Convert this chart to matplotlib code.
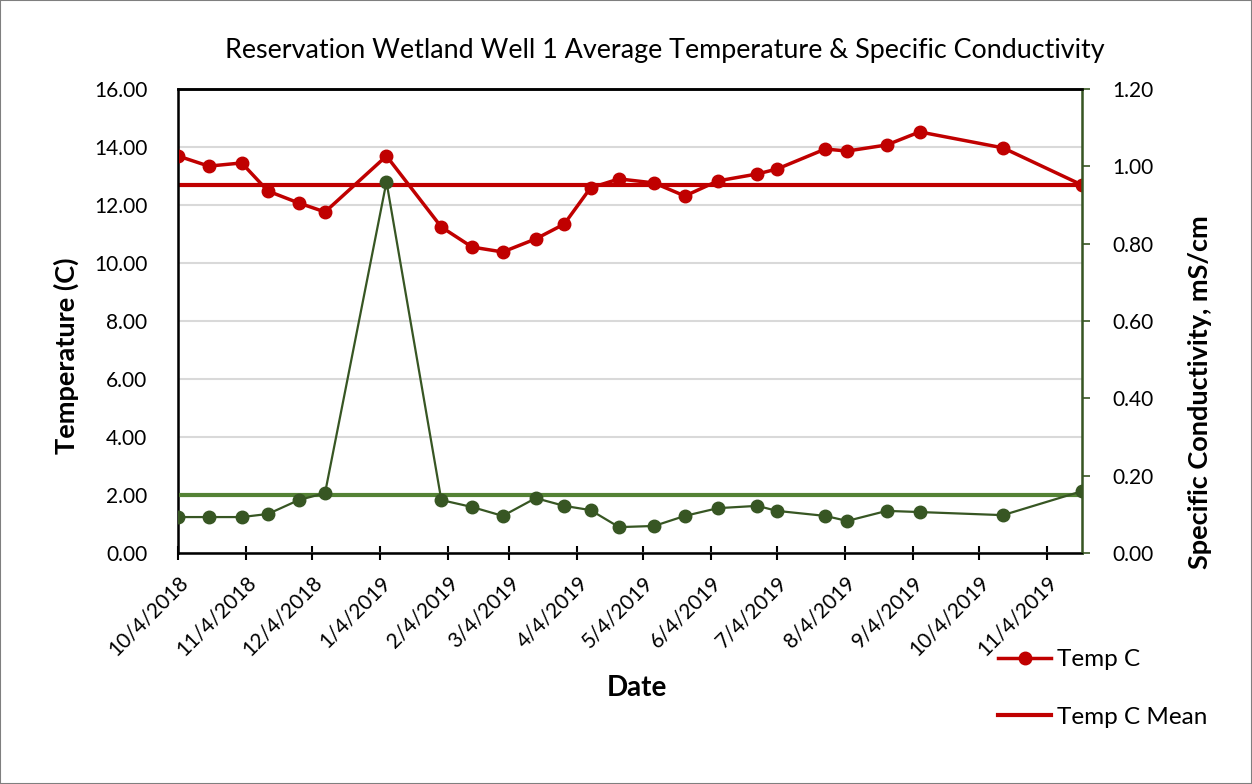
import matplotlib
matplotlib.use("Agg")
import matplotlib.pyplot as plt
import pandas as pd
from matplotlib.lines import Line2D
from matplotlib.patches import Rectangle

plt.rcParams['font.family'] = ['Lato', 'DejaVu Sans']

dates = ["2018-10-04", "2018-10-18", "2018-11-02", "2018-11-14", "2018-11-28",
         "2018-12-10", "2019-01-07", "2019-02-01", "2019-02-15", "2019-03-01",
         "2019-03-16", "2019-03-29", "2019-04-10", "2019-04-23", "2019-05-09",
         "2019-05-23", "2019-06-07", "2019-06-25", "2019-07-04", "2019-07-26",
         "2019-08-05", "2019-08-23", "2019-09-07", "2019-10-15", "2019-11-20"]
temp_c = [13.69, 13.34, 13.45, 12.48, 12.07, 11.76, 13.69, 11.24, 10.55, 10.38,
          10.83, 11.34, 12.59, 12.90, 12.76, 12.31, 12.83, 13.07, 13.24, 13.93,
          13.86, 14.07, 14.52, 13.97, 12.69]
temp_mean = 12.69
spec_cond = [0.093, 0.093, 0.093, 0.101, 0.137, 0.155, 0.960, 0.137, 0.119, 0.096,
             0.142, 0.122, 0.111, 0.067, 0.070, 0.096, 0.116, 0.122, 0.109, 0.096,
             0.083, 0.109, 0.106, 0.098, 0.160]
cond_mean = 0.150
tick_dates = ["2018-10-04", "2018-11-04", "2018-12-04", "2019-01-04", "2019-02-04",
              "2019-03-04", "2019-04-04", "2019-05-04", "2019-06-04", "2019-07-04",
              "2019-08-04", "2019-09-04", "2019-10-04", "2019-11-04"]
tick_labels = ["10/4/2018", "11/4/2018", "12/4/2018", "1/4/2019", "2/4/2019",
               "3/4/2019", "4/4/2019", "5/4/2019", "6/4/2019", "7/4/2019",
               "8/4/2019", "9/4/2019", "10/4/2019", "11/4/2019"]

RED = "#C00000"
DKGREEN = "#375623"
LTGREEN = "#548235"

x = pd.to_datetime(dates)
xt = pd.to_datetime(tick_dates)

fig = plt.figure(figsize=(12.52, 7.84), dpi=100)
fig.patches.append(Rectangle((0, 0), 1, 1, transform=fig.transFigure,
                             fill=False, edgecolor="#7f7f7f", linewidth=1.5))
ax = fig.add_axes([0.1422, 0.2946, 0.7220, 0.5919])
ax2 = ax.twinx()

ax.set_xlim(x[0], x[-1])
ax.set_ylim(0, 16)
ax2.set_ylim(0, 1.2)

lt = [0, 2, 4, 6, 8, 10, 12, 14, 16]
rt = [0, 0.2, 0.4, 0.6, 0.8, 1.0, 1.2]
ax.set_yticks(lt)
ax.set_yticklabels([f"{v:.2f}" for v in lt], fontsize=15)
ax2.set_yticks(rt)
ax2.set_yticklabels([f"{v:.2f}" for v in rt], fontsize=15)

ax.grid(axis='y', color="#D9D9D9", linewidth=1.5)
ax.set_axisbelow(True)

ax.set_xticks(xt)
ax.set_xticklabels(tick_labels, rotation=45, ha='right', rotation_mode='anchor', fontsize=15)
ax.tick_params(axis='x', direction='inout', length=10, width=1.5, pad=9)
ax.tick_params(axis='y', length=0, pad=22)
ax2.tick_params(axis='y', direction='out', length=6, width=1.2, color=DKGREEN, pad=16)

for s in ['left', 'bottom', 'top']:
    ax.spines[s].set_linewidth(1.8)
    ax.spines[s].set_color('black')
ax2.spines['right'].set_color(DKGREEN)
ax2.spines['right'].set_linewidth(1.8)
ax2.spines['top'].set_linewidth(1.8)

ax.plot(x, temp_c, color=RED, linewidth=2.5, marker='o', markersize=9, zorder=3)
ax.axhline(temp_mean, color=RED, linewidth=3, zorder=2)

ax2.plot(x, spec_cond, color=DKGREEN, linewidth=1.6, marker='o', markersize=9, zorder=3)
ax2.axhline(cond_mean, color=LTGREEN, linewidth=3, zorder=2)

ax.set_ylabel("Temperature (C)", fontsize=19.5, fontweight='bold')
ax.yaxis.set_label_coords(-0.11, 0.425)
ax2.set_ylabel("Specific Conductivity, mS/cm", fontsize=19.5, fontweight='bold')
ax2.yaxis.set_label_coords(1.117, 0.347)
ax.set_xlabel("Date", fontsize=20, fontweight='bold')
ax.xaxis.set_label_coords(0.508, -0.262)

fig.text(0.531, 0.936, "Reservation Wetland Well 1 Average Temperature & Specific Conductivity",
         ha='center', va='center', fontsize=19.4)

handles = [Line2D([], [], color=RED, linewidth=2.5, marker='o', markersize=9),
           Line2D([], [], color=RED, linewidth=3)]
fig.legend(handles, ["Temp C", "Temp C Mean"], loc='center left',
           bbox_to_anchor=(0.78, 0.122), frameon=False, fontsize=17.5,
           handlelength=2.15, labelspacing=1.5, handletextpad=0.25)

fig.savefig("out.png", dpi=100)
